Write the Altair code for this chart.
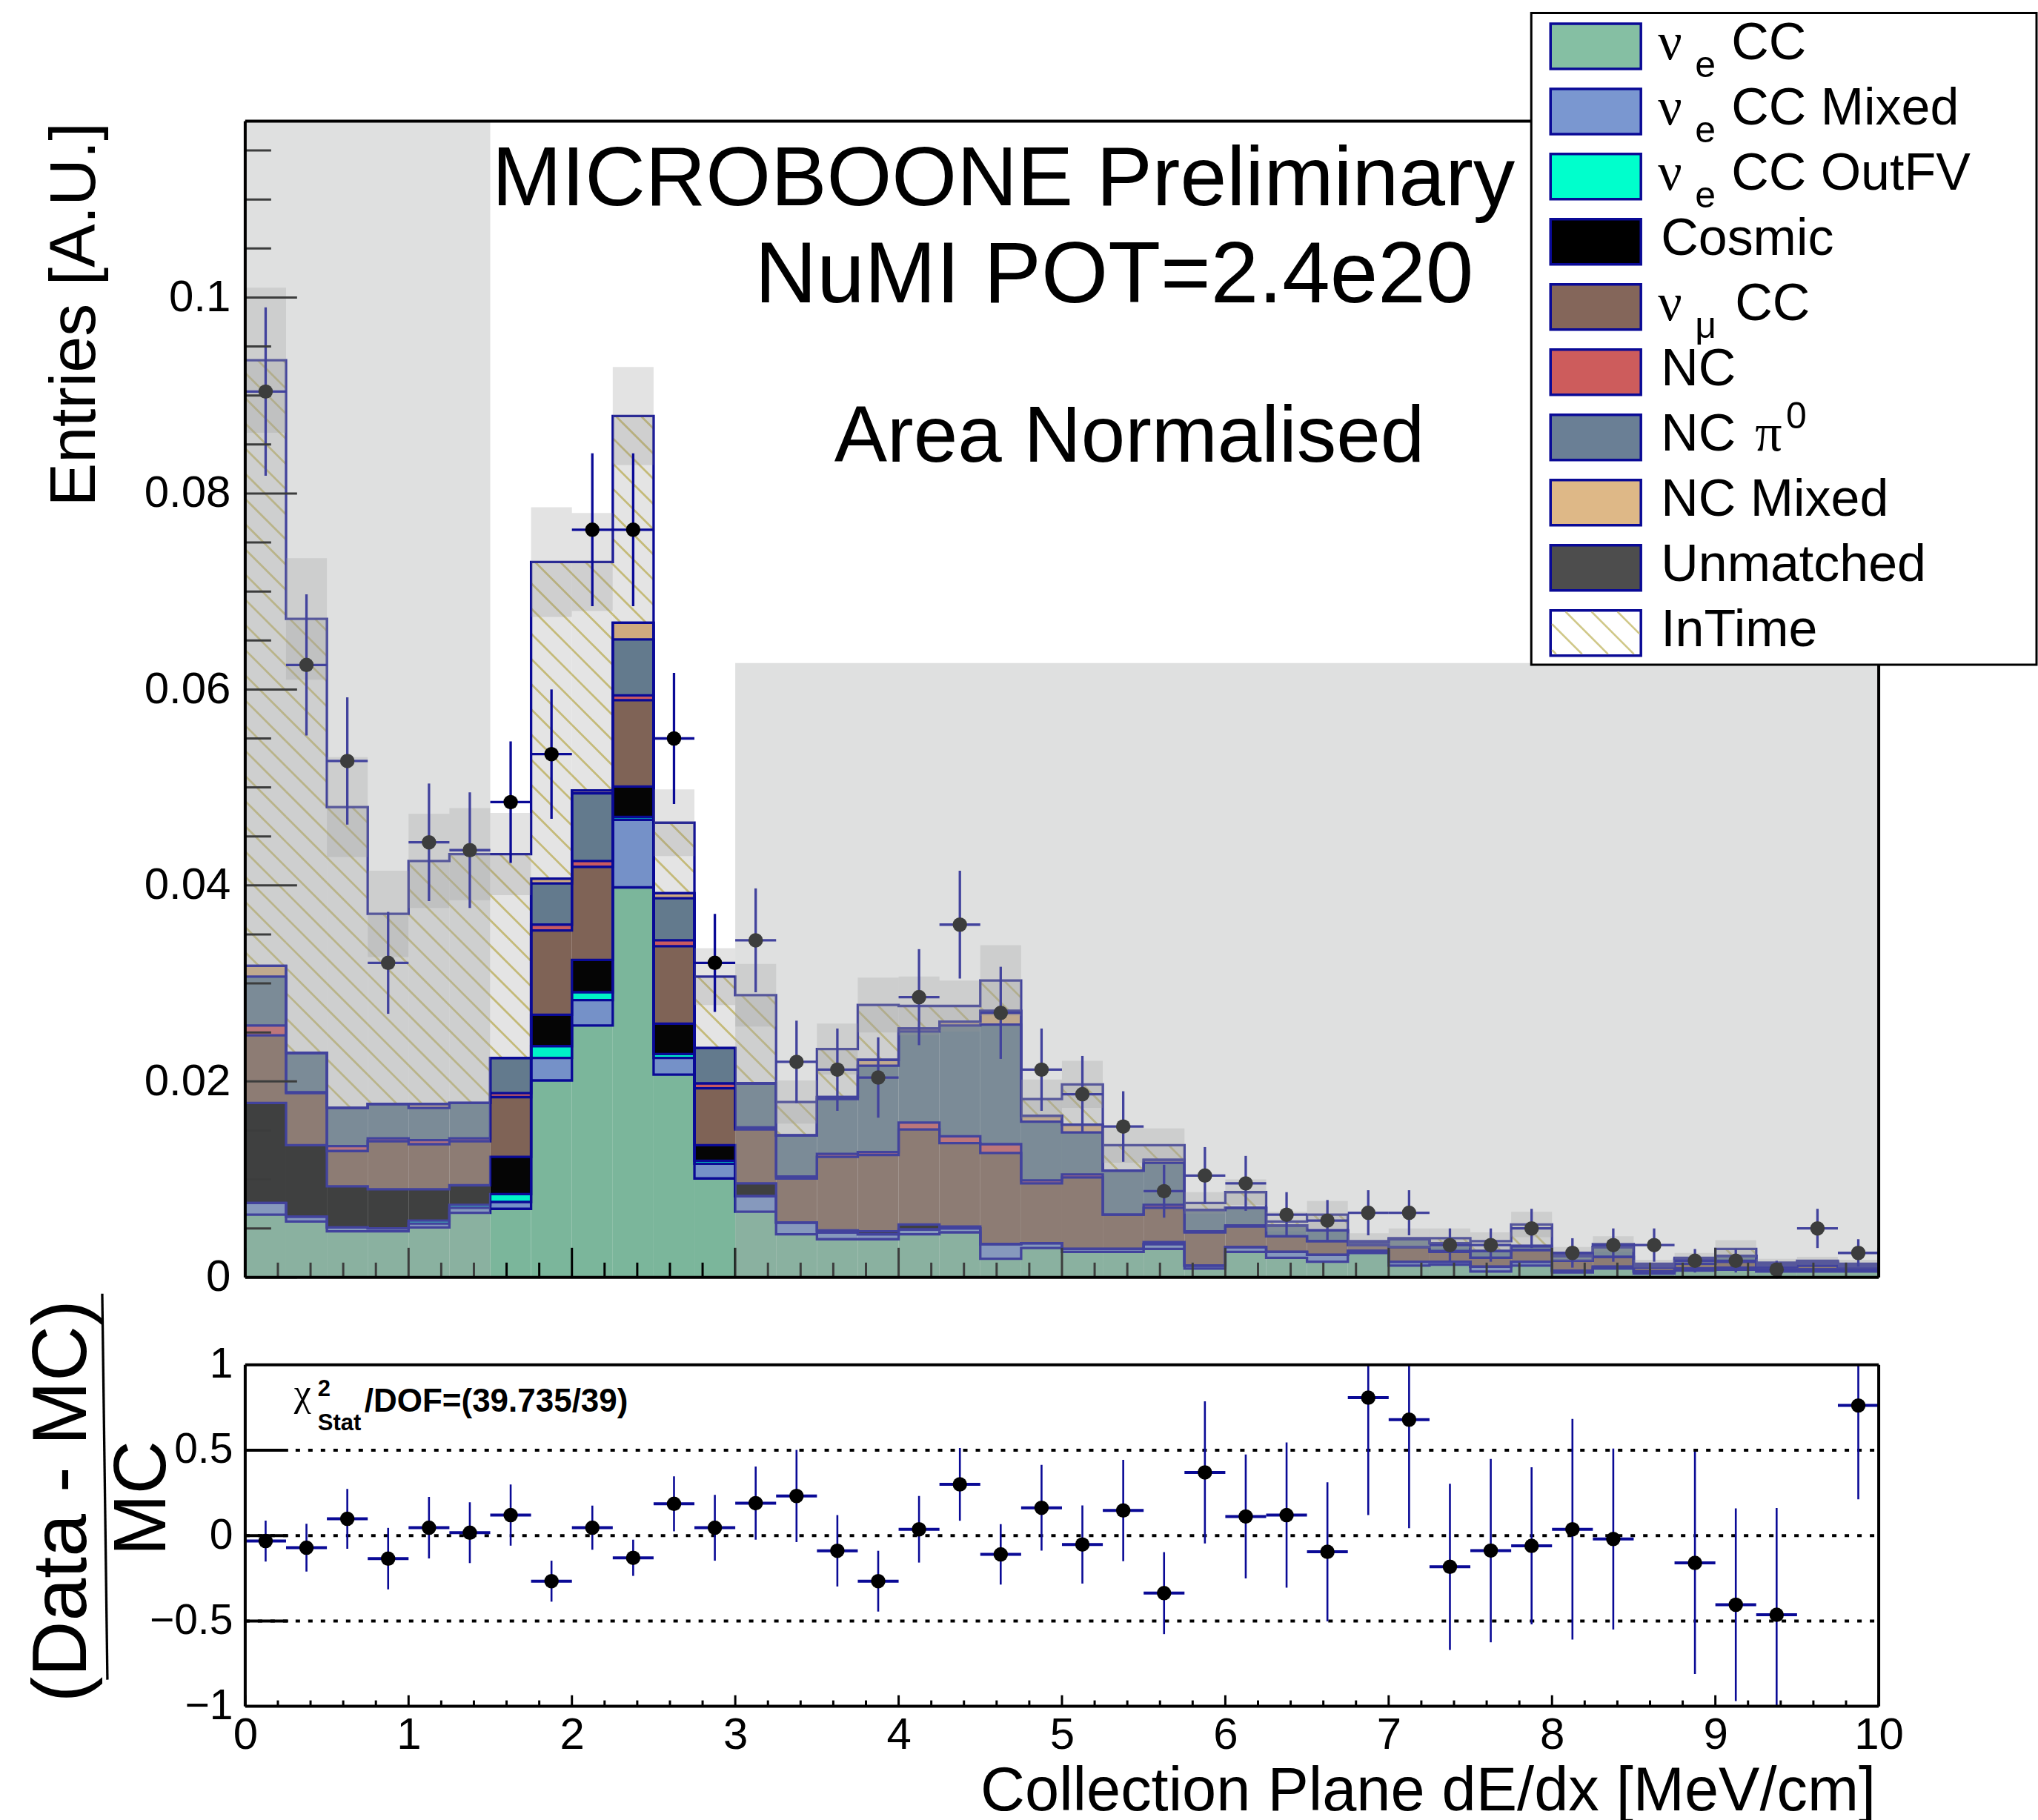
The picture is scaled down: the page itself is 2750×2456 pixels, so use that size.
import math
import altair as alt
import pandas as pd

# ---------------- layout constants (pixels) ----------------
W = 2205
H_TOP = 1561
H_BOT = 461
YMAX = 0.118
NAVY = "#0A0A96"
FONT = "Liberation Sans"
SERIF = "Liberation Serif"

# ---------------- data ----------------
BIN_LO = [0.25 * i for i in range(40)]
BIN_W = 0.25

NUE_CC = [0.0064, 0.0057, 0.0047, 0.0047, 0.0051, 0.0066, 0.0070, 0.0201, 0.0257, 0.0398,
          0.0207, 0.0101, 0.0067, 0.0044, 0.0039, 0.0039, 0.0044, 0.0046, 0.0019, 0.0030,
          0.0026, 0.0026, 0.0029, 0.0009, 0.0026, 0.0020, 0.0016, 0.0025, 0.0012, 0.0013,
          0.0006, 0.0012, 0.0005, 0.0009, 0.0004, 0.0007, 0.0008, 0.0006, 0.0006, 0.0006]
NUE_CC_MIXED = [0.0012, 0.0005, 0.0004, 0.0003, 0.0004, 0.0005, 0.0007, 0.0023, 0.0026, 0.0069,
                0.0017, 0.0015, 0.0016, 0.0012, 0.0007, 0.0005, 0.0005, 0.0004, 0.0015, 0.0005,
                0.0003, 0.0003, 0.0005, 0.0003, 0.0005, 0.0006, 0.0007, 0.0002, 0.0004, 0.0003,
                0.0005, 0.0004, 0.0002, 0.0002, 0.0002, 0.0002, 0.0002, 0.0002, 0.0002, 0.0002]
NUE_CC_OUTFV = [0.0, 0.0, 0.0, 0.0, 0.0003, 0.0003, 0.0008, 0.0012, 0.0008, 0.0003,
                0.0004, 0.0003, 0.0, 0.0, 0.0, 0.0, 0.0, 0.0, 0.0, 0.0,
                0.0, 0.0, 0.0, 0.0, 0.0, 0.0, 0.0, 0.0, 0.0, 0.0,
                0.0, 0.0, 0.0, 0.0, 0.0, 0.0, 0.0, 0.0, 0.0, 0.0]
COSMIC = [0.0102, 0.0073, 0.0042, 0.0040, 0.0032, 0.0020, 0.0038, 0.0032, 0.0033, 0.0031,
          0.0031, 0.0016, 0.0013, 0.0, 0.0002, 0.0003, 0.0005, 0.0002, 0.0, 0.0,
          0.0, 0.0, 0.0002, 0.0, 0.0, 0.0, 0.0, 0.0, 0.0, 0.0,
          0.0, 0.0, 0.0, 0.0, 0.0, 0.0, 0.0, 0.0, 0.0, 0.0]
NUMU_CC = [0.0069, 0.0053, 0.0036, 0.0049, 0.0046, 0.0045, 0.0061, 0.0086, 0.0095, 0.0088,
           0.0079, 0.0058, 0.0055, 0.0045, 0.0075, 0.0078, 0.0097, 0.0085, 0.0093, 0.0061,
           0.0073, 0.0035, 0.0035, 0.0034, 0.0021, 0.0016, 0.0014, 0.0006, 0.0015, 0.0010,
           0.0009, 0.0012, 0.0010, 0.0010, 0.0004, 0.0005, 0.0006, 0.0003, 0.0004, 0.0003]
NC = [0.0010, 0.0001, 0.0005, 0.0003, 0.0004, 0.0003, 0.0004, 0.0006, 0.0006, 0.0005,
      0.0006, 0.0005, 0.0002, 0.0002, 0.0003, 0.0003, 0.0007, 0.0007, 0.0009, 0.0003,
      0.0003, 0.0, 0.0003, 0.0001, 0.0001, 0.0, 0.0, 0.0, 0.0, 0.0001,
      0.0, 0.0, 0.0, 0.0, 0.0, 0.0, 0.0, 0.0, 0.0, 0.0]
NC_PI0 = [0.0050, 0.0040, 0.0039, 0.0035, 0.0033, 0.0036, 0.0036, 0.0042, 0.0069, 0.0057,
          0.0043, 0.0036, 0.0045, 0.0042, 0.0056, 0.0088, 0.0093, 0.0113, 0.0122, 0.0060,
          0.0043, 0.0045, 0.0043, 0.0022, 0.0018, 0.0011, 0.0011, 0.0003, 0.0008, 0.0008,
          0.0007, 0.0004, 0.0005, 0.0010, 0.0002, 0.0004, 0.0006, 0.0002, 0.0003, 0.0002]
NC_MIXED = [0.0011, 0.0, 0.0, 0.0, 0.0004, 0.0, 0.0, 0.0005, 0.0003, 0.0017,
            0.0005, 0.0, 0.0, 0.0, 0.0002, 0.0006, 0.0003, 0.0004, 0.0014, 0.0006,
            0.0008, 0.0, 0.0003, 0.0, 0.0, 0.0, 0.0, 0.0, 0.0, 0.0,
            0.0, 0.0, 0.0, 0.0, 0.0, 0.0, 0.0, 0.0, 0.0, 0.0]
UNMATCHED = [0.0] * 40
INTIME = [0.0618, 0.0443, 0.0307, 0.0194, 0.0248, 0.0254, 0.0208, 0.0323, 0.0233, 0.0211,
          0.0072, 0.0073, 0.0090, 0.0034, 0.0049, 0.0056, 0.0023, 0.0016, 0.0031, 0.0017,
          0.0041, 0.0026, 0.0015, 0.0007, 0.0016, 0.0004, 0.0016, 0.0001, 0.0001, 0.0005,
          0.0010, 0.0022, 0.0002, 0.0003, 0.0002, 0.0002, 0.0007, 0.0002, 0.0002, 0.0001]
MC_ERR = [0.0074, 0.0062, 0.0051, 0.0044, 0.0048, 0.0047, 0.0042, 0.0056, 0.0050, 0.0050,
          0.0034, 0.0029, 0.0032, 0.0022, 0.0026, 0.0028, 0.0030, 0.0026, 0.0036, 0.0020,
          0.0024, 0.0018, 0.0017, 0.0011, 0.0013, 0.0010, 0.0014, 0.0008, 0.0010, 0.0010,
          0.0009, 0.0013, 0.0007, 0.0008, 0.0004, 0.0005, 0.0009, 0.0004, 0.0004, 0.0004]
DATA = [0.0904, 0.0625, 0.0527, 0.0321, 0.0444, 0.0436, 0.0485, 0.0534, 0.0763, 0.0763,
        0.0550, 0.0321, 0.0344, 0.0220, 0.0212, 0.0204, 0.0286, 0.0360, 0.0270, 0.0212,
        0.0187, 0.0154, 0.0088, 0.0104, 0.0096, 0.0064, 0.0058, 0.0066, 0.0066, 0.0033,
        0.0033, 0.0050, 0.0025, 0.0033, 0.0033, 0.0017, 0.0017, 0.0008, 0.0050, 0.0025]
DATA_ERR = [0.0086, 0.0072, 0.0065, 0.0052, 0.0060, 0.0059, 0.0062, 0.0066, 0.0078, 0.0078,
            0.0067, 0.0050, 0.0053, 0.0042, 0.0042, 0.0041, 0.0049, 0.0055, 0.0047, 0.0042,
            0.0039, 0.0036, 0.0027, 0.0029, 0.0028, 0.0023, 0.0021, 0.0023, 0.0023, 0.0017,
            0.0017, 0.0020, 0.0015, 0.0017, 0.0017, 0.0012, 0.0012, 0.0009, 0.0020, 0.0014]
NAN = float("nan")
RATIO = [-0.032, -0.071, 0.098, -0.135, 0.046, 0.017, 0.120, -0.267, 0.046, -0.130,
         0.186, 0.046, 0.190, 0.232, -0.089, -0.267, 0.037, 0.300, -0.110, 0.163,
         -0.052, 0.147, -0.337, 0.370, 0.112, 0.120, -0.095, 0.808, 0.679, -0.183,
         -0.088, -0.060, 0.037, -0.020, NAN, -0.160, -0.405, -0.464, NAN, 0.762]
RATIO_ERR = [0.120, 0.140, 0.175, 0.180, 0.180, 0.178, 0.179, 0.120, 0.129, 0.106,
             0.161, 0.193, 0.214, 0.270, 0.209, 0.178, 0.195, 0.213, 0.177, 0.251,
             0.229, 0.297, 0.240, 0.416, 0.363, 0.425, 0.407, 0.688, 0.636, 0.487,
             0.537, 0.460, 0.646, 0.530, NAN, 0.651, 0.564, 0.625, NAN, 0.550]

SIDEBAND_X0 = [0.0, 3.0]
SIDEBAND_X1 = [1.5, 10.0]
SIDEBAND_YTOP = [0.118, 0.0627]

LEGEND_LABELS = ["ν_e CC", "ν_e CC Mixed", "ν_e CC OutFV", "Cosmic", "ν_μ CC",
                 "NC", "NC π^0", "NC Mixed", "Unmatched", "InTime"]
PLOT_COLORS = ["#7BB69B", "#7591C8", "#00F2C8", "#050505", "#7F6356",
               "#C95A60", "#637A8D", "#CFAA7F", "#4A4A4A", "#E4E4E4"]
LEGEND_COLORS = ["#85BFA3", "#7A97D0", "#00FFCC", "#000000", "#84665A",
                 "#CD5C5C", "#6A7F95", "#DEB887", "#4D4D4D", "#FFFFFF"]

Y_MAJOR = [0, 0.02, 0.04, 0.06, 0.08, 0.1]
Y_MINOR = [0.005 * k for k in range(1, 24) if k % 4 != 0]
X_MAJOR = list(range(11))
X_MINOR = [0.2 * k for k in range(1, 50) if k % 5 != 0]
R_MAJOR = [-1, -0.5, 0, 0.5, 1]
R_DOTTED = [-0.5, 0, 0.5]

COMPONENTS = [NUE_CC, NUE_CC_MIXED, NUE_CC_OUTFV, COSMIC, NUMU_CC, NC, NC_PI0,
              NC_MIXED, UNMATCHED, INTIME]

# ---------------- derived tables ----------------
stack_rows, step_rows = [], []
cum = [0.0] * 40
base_intime = None
for ci, vals in enumerate(COMPONENTS):
    if ci == 9:
        base_intime = list(cum)
    for i in range(40):
        lo = cum[i]
        hi = lo + vals[i]
        if vals[i] > 0:
            stack_rows.append(dict(x=BIN_LO[i], x2=BIN_LO[i] + BIN_W, y=lo, y2=hi,
                                   color=PLOT_COLORS[ci]))
        cum[i] = hi
    for i in range(40):
        step_rows.append(dict(comp=LEGEND_LABELS[ci], x=BIN_LO[i], y=cum[i]))
    step_rows.append(dict(comp=LEGEND_LABELS[ci], x=10.0, y=cum[39]))
total = list(cum)

KX = W / 10.0
KY = H_TOP / YMAX


def hatch_segments(xl, xh, yt, yb, spacing=34.0):
    segs = []
    k0 = math.ceil((yt - xh) / spacing)
    k1 = math.floor((yb - xl) / spacing)
    for k in range(k0, k1 + 1):
        c = k * spacing
        xa = max(xl, yt - c)
        xb = min(xh, yb - c)
        if xb - xa > 1.0:
            segs.append((xa, xa + c, xb, xb + c))
    return segs


hatch_rows = []
for i in range(40):
    xl = BIN_LO[i] * KX
    xh = (BIN_LO[i] + BIN_W) * KX
    yt = H_TOP - total[i] * KY
    yb = H_TOP - base_intime[i] * KY
    for (xa, ya, xb, yb2) in hatch_segments(xl, xh, yt, yb):
        hatch_rows.append(dict(x=xa / KX, y=(H_TOP - ya) / KY, x2=xb / KX, y2=(H_TOP - yb2) / KY))

band_rows = [dict(x=BIN_LO[i], x2=BIN_LO[i] + BIN_W, y=total[i] - MC_ERR[i], y2=total[i] + MC_ERR[i])
             for i in range(40)]
data_rows = [dict(xc=BIN_LO[i] + BIN_W / 2, x=BIN_LO[i], x2=BIN_LO[i] + BIN_W, y=DATA[i],
                  ylo=DATA[i] - DATA_ERR[i], yhi=DATA[i] + DATA_ERR[i]) for i in range(40)]
ratio_rows = [dict(xc=BIN_LO[i] + BIN_W / 2, x=BIN_LO[i], x2=BIN_LO[i] + BIN_W, y=RATIO[i],
                   ylo=RATIO[i] - RATIO_ERR[i], yhi=RATIO[i] + RATIO_ERR[i])
              for i in range(40) if not math.isnan(RATIO[i])]
side_rows = [dict(x=a, x2=b, y=0.0, y2=c) for a, b, c in zip(SIDEBAND_X0, SIDEBAND_X1, SIDEBAND_YTOP)]

df_stack = pd.DataFrame(stack_rows)
df_step = pd.DataFrame(step_rows)
df_hatch = pd.DataFrame(hatch_rows)
df_band = pd.DataFrame(band_rows)
df_data = pd.DataFrame(data_rows)
df_ratio = pd.DataFrame(ratio_rows)
df_side = pd.DataFrame(side_rows)

XS = alt.Scale(domain=[0, 10], nice=False, zero=False)
YS = alt.Scale(domain=[0, YMAX], nice=False, zero=False)
RS = alt.Scale(domain=[-1, 1], nice=False, zero=False)

AX_TOP_Y = alt.Axis(values=Y_MAJOR, format="~g", labelFont=FONT, labelFontSize=60,
                    labelPadding=20, ticks=False, tickSize=0, domain=False, grid=False,
                    title=None, labelOverlap=False, labelColor="black", zindex=1)
AX_BOT_Y = alt.Axis(values=R_MAJOR, format="~g", labelFont=FONT, labelFontSize=57,
                    labelPadding=17, ticks=False, tickSize=0, domain=False, grid=False,
                    title=None, labelOverlap=False, labelColor="black", zindex=1)
AX_BOT_X = alt.Axis(values=X_MAJOR, format="d", labelFont=FONT, labelFontSize=60,
                    labelPadding=10, ticks=False, tickSize=0, domain=False, grid=False,
                    title=None, labelOverlap=False, labelFlush=False, labelColor="black", zindex=1)


def X(f, axis=None):
    return alt.X(f, scale=XS, axis=axis)


def Yt(f):
    return alt.Y(f, scale=YS, axis=AX_TOP_Y)


def Yb(f):
    return alt.Y(f, scale=RS, axis=AX_BOT_Y)


def PX(f):
    return alt.X(f, scale=None, axis=None)


def PY(f):
    return alt.Y(f, scale=None, axis=None)


one = pd.DataFrame({"a": [0]})

# ---------------- top panel ----------------
top_layers = []
top_layers.append(alt.Chart(df_stack).mark_rect().encode(
    x=X("x:Q"), x2="x2:Q", y=Yt("y:Q"), y2="y2:Q", color=alt.Color("color:N", scale=None)))
top_layers.append(alt.Chart(df_hatch).mark_rule(color="#C4BA78", strokeWidth=2.7).encode(
    x=X("x:Q"), x2="x2:Q", y=Yt("y:Q"), y2="y2:Q"))
top_layers.append(alt.Chart(df_step).mark_line(interpolate="step-after", color=NAVY, strokeWidth=3.3).encode(
    x=X("x:Q"), y=Yt("y:Q"), detail="comp:N", order="x:Q"))
top_layers.append(alt.Chart(df_band).mark_rect(color="#8F8F8F", opacity=0.25).encode(
    x=X("x:Q"), x2="x2:Q", y=Yt("y:Q"), y2="y2:Q"))
top_layers.append(alt.Chart(df_data).mark_rule(color=NAVY, strokeWidth=3.3).encode(
    x=X("xc:Q"), y=Yt("ylo:Q"), y2="yhi:Q"))
top_layers.append(alt.Chart(df_data).mark_rule(color=NAVY, strokeWidth=3.3).encode(
    x=X("x:Q"), x2="x2:Q", y=Yt("y:Q")))
top_layers.append(alt.Chart(df_data).mark_circle(size=380, color="black", opacity=1).encode(
    x=X("xc:Q"), y=Yt("y:Q")))
# inward ticks
top_layers.append(alt.Chart(pd.DataFrame({"v": X_MAJOR})).mark_rule(color="black", strokeWidth=3).encode(
    x=X("v:Q"), y=alt.value(H_TOP), y2=alt.value(H_TOP - 40)))
top_layers.append(alt.Chart(pd.DataFrame({"v": X_MINOR})).mark_rule(color="black", strokeWidth=3).encode(
    x=X("v:Q"), y=alt.value(H_TOP), y2=alt.value(H_TOP - 20)))
top_layers.append(alt.Chart(pd.DataFrame({"v": Y_MAJOR})).mark_rule(color="black", strokeWidth=3).encode(
    y=Yt("v:Q"), x=alt.value(0), x2=alt.value(70)))
top_layers.append(alt.Chart(pd.DataFrame({"v": Y_MINOR})).mark_rule(color="black", strokeWidth=3).encode(
    y=Yt("v:Q"), x=alt.value(0), x2=alt.value(35)))
# side-band shading
top_layers.append(alt.Chart(df_side).mark_rect(color="#A6A9A9", opacity=0.36).encode(
    x=X("x:Q"), x2="x2:Q", y=Yt("y:Q"), y2="y2:Q"))
# frame
for enc in [dict(x=alt.value(0), x2=alt.value(W), y=alt.value(0)),
            dict(x=alt.value(0), x2=alt.value(W), y=alt.value(H_TOP)),
            dict(x=alt.value(0), y=alt.value(0), y2=alt.value(H_TOP)),
            dict(x=alt.value(W), y=alt.value(0), y2=alt.value(H_TOP))]:
    top_layers.append(alt.Chart(one).mark_rule(color="black", strokeWidth=4).encode(**enc))

# annotations
df_ann = pd.DataFrame({"x": [1714, 1658, 1592], "y": [114, 245, 460],
                       "t": ["MICROBOONE Preliminary", "NuMI POT=2.4e20", "Area Normalised"],
                       "fs": [113, 116, 107]})
top_layers.append(alt.Chart(df_ann).mark_text(font=FONT, align="right", baseline="alphabetic", color="black").encode(
    x=PX("x:Q"), y=PY("y:Q"), text="t:N", size=alt.Size("fs:Q", scale=None, legend=None)))

# y title
top_layers.append(alt.Chart(one).mark_text(text="Entries [A.U.]", font=FONT, fontSize=88, angle=270,
                                           align="right", baseline="alphabetic", color="black").encode(
    x=alt.value(-203), y=alt.value(2)))

# legend
LX0, LX1, LY0, LY1 = 1736, 2418, -146, 734
SW_X0, SW_X1 = 1762, 1884
TX0 = 1911
top_layers.append(alt.Chart(pd.DataFrame({"x": [LX0], "x2": [LX1], "y": [LY0], "y2": [LY1]})).mark_rect(
    fill="white", stroke="black", strokeWidth=3).encode(x=PX("x:Q"), x2="x2:Q", y=PY("y:Q"), y2="y2:Q"))
sw_rows, main_txt, greek_txt, small_txt = [], [], [], []
leg_hatch = []
for i, (lab, col) in enumerate(zip(LEGEND_LABELS, LEGEND_COLORS)):
    cy = -101 + 88 * i
    sw_rows.append(dict(x=SW_X0, x2=SW_X1, y=cy - 30.5, y2=cy + 30.5, fill=col))
    if lab == "InTime":
        for (xa, ya, xb, yb2) in hatch_segments(SW_X0 + 2, SW_X1 - 2, cy - 28.5, cy + 28.5, spacing=35.0):
            leg_hatch.append(dict(x=xa, y=ya, x2=xb, y2=yb2))
    if lab.startswith("ν_"):
        sub = lab[2]
        rest = lab[4:]
        greek_txt.append(dict(x=TX0 - 4, y=cy + 18, t="ν"))
        small_txt.append(dict(x=TX0 + 46, y=cy + 42, t=sub))
        main_txt.append(dict(x=TX0 + (95 if sub == "e" else 100), y=cy + 18, t=rest))
    elif "π^" in lab:
        main_txt.append(dict(x=TX0, y=cy + 18, t=lab.split(" ")[0]))
        greek_txt.append(dict(x=TX0 + 127, y=cy + 18, t="π"))
        small_txt.append(dict(x=TX0 + 169, y=cy - 12, t=lab.split("^")[1]))
    else:
        main_txt.append(dict(x=TX0, y=cy + 18, t=lab))

top_layers.append(alt.Chart(pd.DataFrame(sw_rows)).mark_rect(stroke=NAVY, strokeWidth=3.5).encode(
    x=PX("x:Q"), x2="x2:Q", y=PY("y:Q"), y2="y2:Q", fill=alt.Fill("fill:N", scale=None)))
top_layers.append(alt.Chart(pd.DataFrame(leg_hatch)).mark_rule(color="#D0C888", strokeWidth=2.7).encode(
    x=PX("x:Q"), x2="x2:Q", y=PY("y:Q"), y2="y2:Q"))
top_layers.append(alt.Chart(pd.DataFrame(main_txt)).mark_text(font=FONT, fontSize=70, align="left",
                                                              baseline="alphabetic", color="black").encode(
    x=PX("x:Q"), y=PY("y:Q"), text="t:N"))
top_layers.append(alt.Chart(pd.DataFrame(greek_txt)).mark_text(font=SERIF, fontSize=72, align="left",
                                                               baseline="alphabetic", color="black").encode(
    x=PX("x:Q"), y=PY("y:Q"), text="t:N"))
top_layers.append(alt.Chart(pd.DataFrame(small_txt)).mark_text(font=FONT, fontSize=50, align="left",
                                                               baseline="alphabetic", color="black").encode(
    x=PX("x:Q"), y=PY("y:Q"), text="t:N"))

top = alt.layer(*top_layers).properties(width=W, height=H_TOP)

# ---------------- ratio panel ----------------
bot_layers = []
bot_layers.append(alt.Chart(pd.DataFrame({"v": R_DOTTED})).mark_rule(color="black", strokeWidth=4,
                                                                      strokeDash=[6, 11]).encode(
    y=Yb("v:Q"), x=alt.value(0), x2=alt.value(W)))
bot_layers.append(alt.Chart(df_ratio).mark_rule(color=NAVY, strokeWidth=2.6, clip=True).encode(
    x=X("xc:Q", AX_BOT_X), y=Yb("ylo:Q"), y2="yhi:Q"))
bot_layers.append(alt.Chart(df_ratio).mark_rule(color=NAVY, strokeWidth=4).encode(
    x=X("x:Q", AX_BOT_X), x2="x2:Q", y=Yb("y:Q")))
bot_layers.append(alt.Chart(df_ratio).mark_circle(size=380, color="black", opacity=1).encode(
    x=X("xc:Q", AX_BOT_X), y=Yb("y:Q")))
bot_layers.append(alt.Chart(pd.DataFrame({"v": X_MAJOR})).mark_rule(color="black", strokeWidth=3).encode(
    x=X("v:Q", AX_BOT_X), y=alt.value(H_BOT), y2=alt.value(H_BOT - 15)))
bot_layers.append(alt.Chart(pd.DataFrame({"v": X_MINOR})).mark_rule(color="black", strokeWidth=3).encode(
    x=X("v:Q", AX_BOT_X), y=alt.value(H_BOT), y2=alt.value(H_BOT - 8)))
bot_layers.append(alt.Chart(pd.DataFrame({"v": R_DOTTED})).mark_rule(color="black", strokeWidth=4).encode(
    y=Yb("v:Q"), x=alt.value(0), x2=alt.value(58)))
for enc in [dict(x=alt.value(0), x2=alt.value(W), y=alt.value(0)),
            dict(x=alt.value(0), x2=alt.value(W), y=alt.value(H_BOT)),
            dict(x=alt.value(0), y=alt.value(0), y2=alt.value(H_BOT)),
            dict(x=alt.value(W), y=alt.value(0), y2=alt.value(H_BOT))]:
    bot_layers.append(alt.Chart(one).mark_rule(color="black", strokeWidth=4).encode(**enc))

# chi2 text
bot_layers.append(alt.Chart(one).mark_text(text="χ", font=SERIF, fontSize=52, align="left",
                                           baseline="alphabetic", color="black").encode(
    x=alt.value(66), y=alt.value(55)))
bot_layers.append(alt.Chart(one).mark_text(text="2", font=FONT, fontSize=31, fontWeight="bold", align="left",
                                           baseline="alphabetic", color="black").encode(
    x=alt.value(98), y=alt.value(42)))
bot_layers.append(alt.Chart(one).mark_text(text="Stat", font=FONT, fontSize=31, fontWeight="bold", align="left",
                                           baseline="alphabetic", color="black").encode(
    x=alt.value(98), y=alt.value(88)))
bot_layers.append(alt.Chart(one).mark_text(text="/DOF=(39.735/39)", font=FONT, fontSize=44, fontWeight="bold",
                                           align="left", baseline="alphabetic", color="black").encode(
    x=alt.value(161), y=alt.value(63)))
# x title
bot_layers.append(alt.Chart(one).mark_text(text="Collection Plane dE/dx [MeV/cm]", font=FONT, fontSize=83,
                                           align="right", baseline="alphabetic", color="black").encode(
    x=alt.value(2201), y=alt.value(601)))
# ratio y title as a fraction
bot_layers.append(alt.Chart(one).mark_text(text="(Data - MC)", font=FONT, fontSize=104, angle=270,
                                           align="center", baseline="alphabetic", color="black").encode(
    x=alt.value(-215), y=alt.value(184)))
bot_layers.append(alt.Chart(one).mark_text(text="MC", font=FONT, fontSize=100, angle=270,
                                           align="center", baseline="alphabetic", color="black").encode(
    x=alt.value(-108), y=alt.value(180)))
bot_layers.append(alt.Chart(one).mark_rule(color="black", strokeWidth=3.3).encode(
    x=alt.value(-193), x2=alt.value(-186), y=alt.value(-96), y2=alt.value(425)))

bottom = alt.layer(*bot_layers).properties(width=W, height=H_BOT)

chart = alt.vconcat(top, bottom, spacing=118, bounds="flush").properties(
    padding={"left": 32, "top": 15, "right": 0, "bottom": 10},
    background="white",
).configure_view(stroke="transparent")

chart.save("out.html", embed_options={"renderer": "svg", "actions": False})
